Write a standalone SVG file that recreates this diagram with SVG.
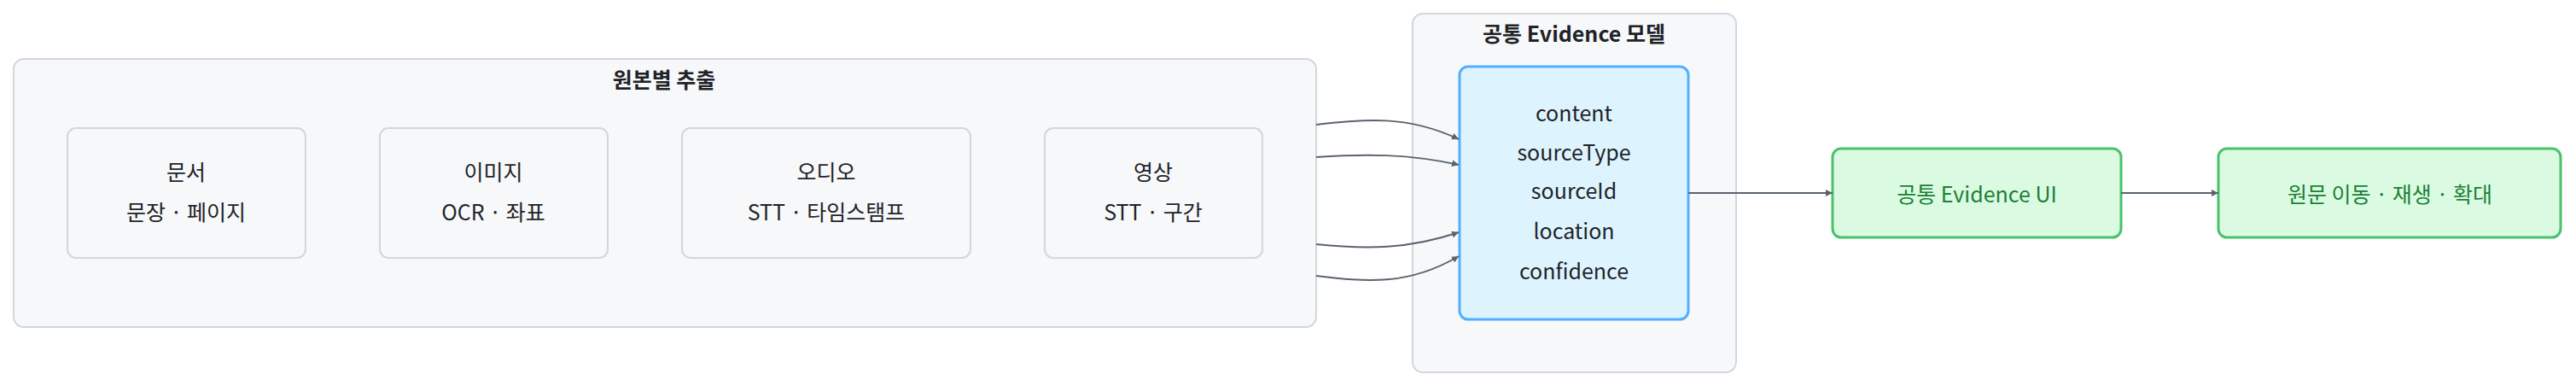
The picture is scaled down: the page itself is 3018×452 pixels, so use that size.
<svg xmlns="http://www.w3.org/2000/svg" width="3018" height="452" viewBox="0 0 3018 452">
<style>
text{font-family:"Noto Sans CJK KR","Noto Sans",Inter,sans-serif;font-size:25px;fill:#1f2328;text-anchor:middle;dominant-baseline:central}
.t{font-weight:bold}
.grp{fill:#f6f8fa;stroke:#d0d7de;stroke-width:2}
.nd{fill:#f6f8fa;stroke:#d0d7de;stroke-width:2}
.bl{fill:#ddf4ff;stroke:#54aeff;stroke-width:3}
.gr{fill:#dafbe1;stroke:#4ac26b;stroke-width:3}
.gt{fill:#1a7f37}
.c{fill:none;stroke:#59636e;stroke-width:2;marker-end:url(#a)}
</style>
<defs><marker id="a" viewBox="0 0 10 10" refX="10" refY="5" markerWidth="8" markerHeight="8" markerUnits="userSpaceOnUse" orient="auto"><path d="M0,0L10,5L0,10z" fill="#59636e"/></marker></defs>
<defs><marker id="m" viewBox="0 0 10 10" refX="9" refY="5" markerWidth="7" markerHeight="7" orient="auto"><path d="M0,0L10,5L0,10z" fill="#59636e"/></marker></defs>
<g id="extract"><rect class="grp" x="16" y="69" width="1526" height="314" rx="12"/><text class="t" x="778" y="92">원본별 추출</text></g>
<g id="doc"><rect class="nd" x="79" y="150" width="279" height="152" rx="10"/><text x="218" y="200">문서</text><text x="218" y="247">문장 · 페이지</text></g>
<g id="img"><rect class="nd" x="445" y="150" width="267" height="152" rx="10"/><text x="578" y="200">이미지</text><text x="578" y="247">OCR · 좌표</text></g>
<g id="audio"><rect class="nd" x="799" y="150" width="338" height="152" rx="10"/><text x="968" y="200">오디오</text><text x="968" y="247">STT · 타임스탬프</text></g>
<g id="video"><rect class="nd" x="1224" y="150" width="255" height="152" rx="10"/><text x="1351" y="200">영상</text><text x="1351" y="247">STT · 구간</text></g>
<g id="model"><rect class="grp" x="1655" y="16" width="379" height="420" rx="12"/><text class="t" x="1844" y="38">공통 Evidence 모델</text></g>
<g id="evidence"><rect class="bl" x="1710" y="78" width="268" height="296" rx="10"/><text x="1844" y="131">content</text><text x="1844" y="177">sourceType</text><text x="1844" y="222">sourceId</text><text x="1844" y="269">location</text><text x="1844" y="316">confidence</text></g>
<g id="ui"><rect class="gr" x="2147" y="174" width="338" height="104" rx="10"/><text class="gt" x="2316" y="226">공통 Evidence UI</text></g>
<g id="nav"><rect class="gr" x="2599" y="174" width="401" height="104" rx="10"/><text class="gt" x="2800" y="226">원문 이동 · 재생 · 확대</text></g>
<g id="connectors">
<path class="c" d="M1542,146 C1600,139 1650,135 1709,163"/>
<path class="c" d="M1542,184 C1600,180 1650,180 1709,193"/>
<path class="c" d="M1542,286 C1600,292 1650,292 1709,272"/>
<path class="c" d="M1542,323 C1600,330 1650,335 1709,300"/>
<path class="c" d="M1978,226 L2147,226"/>
<path class="c" d="M2485,226 L2599,226"/>
</g>
</svg>
